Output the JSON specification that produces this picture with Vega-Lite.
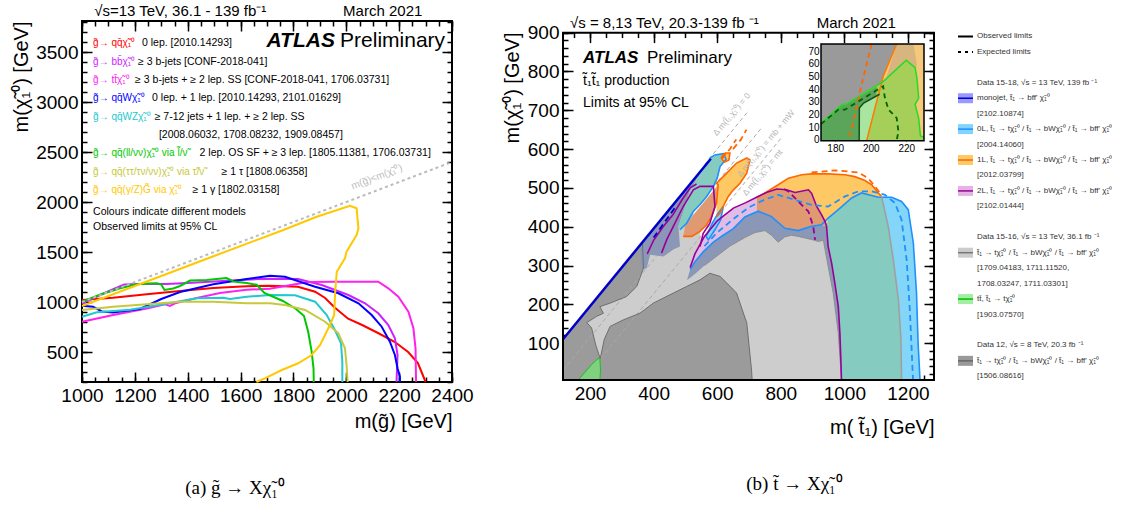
{
"$schema":"https://vega.github.io/schema/vega-lite/v6.json",
"padding":{"left":10,"top":3,"right":0,"bottom":0},
"background":"white",
"config":{"font":"Liberation Sans","view":{"stroke":null},
"axis":{"grid":false,"domain":false,"format":"d","labelFont":"Liberation Sans","titleFont":"Liberation Sans","labelColor":"#000","titleColor":"#000","tickColor":"#000","tickWidth":1.5,"labelFontSize":19,"titleFontSize":20,"titleFontWeight":"normal","labelFlush":false,"labelOverlap":false,"tickSize":-10,"labelPadding":14},
"title":{"font":"Liberation Serif","fontSize":19,"fontWeight":"normal","color":"#000"},
"text":{"font":"Liberation Sans"}},
"datasets":{
"gl":[
{"s":"qq","x":1000,"y":1020},{"s":"qq","x":1117,"y":1043},{"s":"qq","x":1245,"y":1077},{"s":"qq","x":1371,"y":1110},{"s":"qq","x":1497,"y":1140},{"s":"qq","x":1623,"y":1157},{"s":"qq","x":1711,"y":1163},{"s":"qq","x":1817,"y":1153},{"s":"qq","x":1882,"y":1103},{"s":"qq","x":1920,"y":1040},{"s":"qq","x":1957,"y":943},{"s":"qq","x":2007,"y":833},{"s":"qq","x":2060,"y":770},{"s":"qq","x":2120,"y":690},{"s":"qq","x":2184,"y":600},{"s":"qq","x":2234,"y":500},{"s":"qq","x":2271,"y":390},{"s":"qq","x":2294,"y":240},{"s":"qq","x":2300,"y":200},
{"s":"bb","x":1000,"y":985},{"s":"bb","x":1060,"y":1060},{"s":"bb","x":1120,"y":1130},{"s":"bb","x":1160,"y":1175},{"s":"bb","x":1250,"y":1183},{"s":"bb","x":1320,"y":1180},{"s":"bb","x":1400,"y":1190},{"s":"bb","x":1500,"y":1205},{"s":"bb","x":1600,"y":1220},{"s":"bb","x":1692,"y":1233},{"s":"bb","x":1818,"y":1230},{"s":"bb","x":1907,"y":1170},{"s":"bb","x":2008,"y":1070},{"s":"bb","x":2071,"y":987},{"s":"bb","x":2121,"y":887},{"s":"bb","x":2159,"y":770},{"s":"bb","x":2184,"y":637},{"s":"bb","x":2194,"y":470},{"s":"bb","x":2190,"y":203},
{"s":"tt","x":1000,"y":803},{"s":"tt","x":1118,"y":870},{"s":"tt","x":1245,"y":935},{"s":"tt","x":1314,"y":977},{"s":"tt","x":1333,"y":960},{"s":"tt","x":1352,"y":987},{"s":"tt","x":1434,"y":1040},{"s":"tt","x":1522,"y":1090},{"s":"tt","x":1623,"y":1123},{"s":"tt","x":1711,"y":1133},{"s":"tt","x":1790,"y":1170},{"s":"tt","x":1856,"y":1200},{"s":"tt","x":1950,"y":1203},{"s":"tt","x":2050,"y":1203},{"s":"tt","x":2121,"y":1203},{"s":"tt","x":2159,"y":1137},{"s":"tt","x":2197,"y":1053},{"s":"tt","x":2235,"y":903},{"s":"tt","x":2254,"y":737},{"s":"tt","x":2262,"y":537},{"s":"tt","x":2264,"y":203},
{"s":"qqW","x":1000,"y":963},{"s":"qqW","x":1042,"y":953},{"s":"qqW","x":1075,"y":905},{"s":"qqW","x":1117,"y":895},{"s":"qqW","x":1219,"y":930},{"s":"qqW","x":1300,"y":1030},{"s":"qqW","x":1371,"y":1100},{"s":"qqW","x":1497,"y":1177},{"s":"qqW","x":1623,"y":1230},{"s":"qqW","x":1711,"y":1263},{"s":"qqW","x":1768,"y":1253},{"s":"qqW","x":1882,"y":1153},{"s":"qqW","x":1970,"y":1087},{"s":"qqW","x":2046,"y":987},{"s":"qqW","x":2096,"y":870},{"s":"qqW","x":2134,"y":753},{"s":"qqW","x":2165,"y":603},{"s":"qqW","x":2184,"y":470},{"s":"qqW","x":2194,"y":337},{"s":"qqW","x":2203,"y":253},{"s":"qqW","x":2203,"y":200},
{"s":"qqWZ","x":1000,"y":853},{"s":"qqWZ","x":1056,"y":897},{"s":"qqWZ","x":1182,"y":923},{"s":"qqWZ","x":1308,"y":977},{"s":"qqWZ","x":1434,"y":1037},{"s":"qqWZ","x":1535,"y":1043},{"s":"qqWZ","x":1560,"y":1030},{"s":"qqWZ","x":1623,"y":1053},{"s":"qqWZ","x":1711,"y":1070},{"s":"qqWZ","x":1806,"y":1067},{"s":"qqWZ","x":1882,"y":1003},{"s":"qqWZ","x":1926,"y":870},{"s":"qqWZ","x":1957,"y":720},{"s":"qqWZ","x":1980,"y":587},{"s":"qqWZ","x":1985,"y":403},{"s":"qqWZ","x":1985,"y":200},
{"s":"sl","x":1000,"y":1003},{"s":"sl","x":1068,"y":1072},{"s":"sl","x":1144,"y":1137},{"s":"sl","x":1207,"y":1177},{"s":"sl","x":1283,"y":1187},{"s":"sl","x":1300,"y":1175},{"s":"sl","x":1312,"y":1120},{"s":"sl","x":1345,"y":1135},{"s":"sl","x":1371,"y":1160},{"s":"sl","x":1409,"y":1215},{"s":"sl","x":1472,"y":1220},{"s":"sl","x":1547,"y":1240},{"s":"sl","x":1573,"y":1205},{"s":"sl","x":1623,"y":1190},{"s":"sl","x":1661,"y":1172},{"s":"sl","x":1690,"y":1090},{"s":"sl","x":1760,"y":1010},{"s":"sl","x":1810,"y":930},{"s":"sl","x":1840,"y":860},{"s":"sl","x":1856,"y":700},{"s":"sl","x":1869,"y":503},{"s":"sl","x":1876,"y":337},{"s":"sl","x":1877,"y":200},
{"s":"stau","x":1000,"y":920},{"s":"stau","x":1118,"y":953},{"s":"stau","x":1245,"y":977},{"s":"stau","x":1371,"y":1003},{"s":"stau","x":1497,"y":1003},{"s":"stau","x":1623,"y":987},{"s":"stau","x":1711,"y":987},{"s":"stau","x":1768,"y":970},{"s":"stau","x":1844,"y":920},{"s":"stau","x":1920,"y":803},{"s":"stau","x":1970,"y":687},{"s":"stau","x":1995,"y":537},{"s":"stau","x":2001,"y":370},{"s":"stau","x":2005,"y":200},
{"s":"gam","x":1000,"y":960},{"s":"gam","x":1500,"y":1460},{"s":"gam","x":1762,"y":1720},{"s":"gam","x":1888,"y":1853},{"s":"gam","x":2014,"y":1963},{"s":"gam","x":2039,"y":1937},{"s":"gam","x":2046,"y":1737},{"s":"gam","x":2039,"y":1670},{"s":"gam","x":2001,"y":1503},{"s":"gam","x":1995,"y":1437},{"s":"gam","x":1964,"y":1303},{"s":"gam","x":1958,"y":1100},{"s":"gam","x":1954,"y":870},{"s":"gam","x":1938,"y":770},{"s":"gam","x":1901,"y":570},{"s":"gam","x":1869,"y":470},{"s":"gam","x":1818,"y":387},{"s":"gam","x":1756,"y":320},{"s":"gam","x":1692,"y":237},{"s":"gam","x":1660,"y":200},
{"s":"diag","x":1000,"y":1000},{"s":"diag","x":2400,"y":2400}
],
"gtx":[
{"s":"qq","x":1042,"y":3587,"t":"g̃→ qq̄χ̃₁⁰"},
{"s":"bb","x":1042,"y":3403,"t":"g̃→ bb̄χ̃₁⁰"},
{"s":"tt","x":1042,"y":3220,"t":"g̃→ tt̄χ̃₁⁰"},
{"s":"qqW","x":1042,"y":3037,"t":"g̃→ qq̄Wχ̃₁⁰"},
{"s":"qqWZ","x":1042,"y":2853,"t":"g̃→ qq̄WZχ̃₁⁰"},
{"s":"sl","x":1042,"y":2487,"t":"g̃→ qq̄(ll/νν)χ̃₁⁰ via l̃/ν̃"},
{"s":"stau","x":1042,"y":2303,"t":"g̃→ qq̄(ττ/τν/νν)χ̃₁⁰ via τ̃/ν̃"},
{"s":"gam","x":1042,"y":2120,"t":"g̃→ qq̄(γ/Z)G̃ via χ̃₁⁰"}
],
"st":[
{"p":"lg","x":115,"y":5},{"p":"lg","x":115,"y":110},{"p":"lg","x":470,"y":465},{"p":"lg","x":485,"y":470},{"p":"lg","x":520,"y":440},{"p":"lg","x":545,"y":400},{"p":"lg","x":552,"y":330},{"p":"lg","x":560,"y":300},{"p":"lg","x":600,"y":325},{"p":"lg","x":640,"y":350},{"p":"lg","x":687,"y":372},{"p":"lg","x":719,"y":385},{"p":"lg","x":750,"y":390},{"p":"lg","x":771,"y":378},{"p":"lg","x":792,"y":360},{"p":"lg","x":813,"y":374},{"p":"lg","x":834,"y":378},{"p":"lg","x":855,"y":375},{"p":"lg","x":876,"y":371},{"p":"lg","x":897,"y":367},{"p":"lg","x":918,"y":362},{"p":"lg","x":934,"y":365},{"p":"lg","x":949,"y":298},{"p":"lg","x":965,"y":229},{"p":"lg","x":981,"y":126},{"p":"lg","x":991,"y":5},
{"p":"dg","x":115,"y":5},{"p":"dg","x":115,"y":110},{"p":"dg","x":365,"y":360},{"p":"dg","x":368,"y":293},{"p":"dg","x":347,"y":246},{"p":"dg","x":315,"y":220},{"p":"dg","x":263,"y":203},{"p":"dg","x":231,"y":194},{"p":"dg","x":242,"y":177},{"p":"dg","x":221,"y":169},{"p":"dg","x":190,"y":153},{"p":"dg","x":205,"y":139},{"p":"dg","x":218,"y":95},{"p":"dg","x":232,"y":60},{"p":"dg","x":245,"y":110},{"p":"dg","x":263,"y":143},{"p":"dg","x":305,"y":160},{"p":"dg","x":357,"y":177},{"p":"dg","x":399,"y":203},{"p":"dg","x":462,"y":229},{"p":"dg","x":504,"y":246},{"p":"dg","x":546,"y":263},{"p":"dg","x":577,"y":280},{"p":"dg","x":609,"y":272},{"p":"dg","x":630,"y":255},{"p":"dg","x":661,"y":229},{"p":"dg","x":693,"y":152},{"p":"dg","x":708,"y":31},{"p":"dg","x":710,"y":5},
{"p":"s1","x":357,"y":352},{"p":"s1","x":580,"y":575},{"p":"s1","x":556,"y":547},{"p":"s1","x":535,"y":521},{"p":"s1","x":514,"y":491},{"p":"s1","x":499,"y":452},{"p":"s1","x":478,"y":401},{"p":"s1","x":483,"y":349},{"p":"s1","x":462,"y":341},{"p":"s1","x":431,"y":323},{"p":"s1","x":389,"y":328},{"p":"s1","x":378,"y":293},{"p":"s1","x":362,"y":289},
{"p":"s2","x":505,"y":262},{"p":"s2","x":515,"y":290},{"p":"s2","x":530,"y":310},{"p":"s2","x":556,"y":335},{"p":"s2","x":588,"y":360},{"p":"s2","x":619,"y":378},{"p":"s2","x":651,"y":395},{"p":"s2","x":687,"y":425},{"p":"s2","x":729,"y":440},{"p":"s2","x":771,"y":426},{"p":"s2","x":813,"y":396},{"p":"s2","x":855,"y":390},{"p":"s2","x":897,"y":401},{"p":"s2","x":928,"y":405},{"p":"s2","x":944,"y":401},{"p":"s2","x":949,"y":349},{"p":"s2","x":960,"y":306},{"p":"s2","x":970,"y":255},{"p":"s2","x":981,"y":194},{"p":"s2","x":986,"y":126},{"p":"s2","x":989,"y":57},{"p":"s2","x":991,"y":5},{"p":"s2","x":981,"y":126},{"p":"s2","x":965,"y":229},{"p":"s2","x":949,"y":298},{"p":"s2","x":934,"y":365},{"p":"s2","x":918,"y":362},{"p":"s2","x":897,"y":367},{"p":"s2","x":876,"y":371},{"p":"s2","x":855,"y":375},{"p":"s2","x":834,"y":378},{"p":"s2","x":813,"y":374},{"p":"s2","x":792,"y":360},{"p":"s2","x":771,"y":378},{"p":"s2","x":750,"y":390},{"p":"s2","x":719,"y":385},{"p":"s2","x":687,"y":372},{"p":"s2","x":640,"y":350},{"p":"s2","x":600,"y":325},{"p":"s2","x":560,"y":300},{"p":"s2","x":530,"y":278},
{"p":"pink","x":515,"y":295},{"p":"pink","x":530,"y":330},{"p":"pink","x":560,"y":375},{"p":"pink","x":600,"y":415},{"p":"pink","x":651,"y":448},{"p":"pink","x":690,"y":462},{"p":"pink","x":724,"y":476},{"p":"pink","x":724,"y":438},{"p":"pink","x":687,"y":425},{"p":"pink","x":651,"y":395},{"p":"pink","x":619,"y":378},{"p":"pink","x":588,"y":360},{"p":"pink","x":556,"y":335},{"p":"pink","x":530,"y":310},{"p":"pink","x":515,"y":290},
{"p":"brown","x":724,"y":476},{"p":"brown","x":755,"y":488},{"p":"brown","x":787,"y":497},{"p":"brown","x":818,"y":495},{"p":"brown","x":845,"y":488},{"p":"brown","x":887,"y":495},{"p":"brown","x":897,"y":486},{"p":"brown","x":913,"y":452},{"p":"brown","x":928,"y":431},{"p":"brown","x":939,"y":414},{"p":"brown","x":944,"y":401},{"p":"brown","x":928,"y":405},{"p":"brown","x":897,"y":401},{"p":"brown","x":855,"y":390},{"p":"brown","x":813,"y":396},{"p":"brown","x":771,"y":426},{"p":"brown","x":729,"y":440},{"p":"brown","x":724,"y":438},
{"p":"orange","x":724,"y":476},{"p":"orange","x":740,"y":482},{"p":"orange","x":792,"y":508},{"p":"orange","x":824,"y":525},{"p":"orange","x":866,"y":534},{"p":"orange","x":897,"y":536},{"p":"orange","x":949,"y":536},{"p":"orange","x":1002,"y":534},{"p":"orange","x":1033,"y":529},{"p":"orange","x":1065,"y":519},{"p":"orange","x":1086,"y":508},{"p":"orange","x":1107,"y":487},{"p":"orange","x":1117,"y":478},{"p":"orange","x":1107,"y":476},{"p":"orange","x":1054,"y":487},{"p":"orange","x":1023,"y":474},{"p":"orange","x":981,"y":444},{"p":"orange","x":949,"y":422},{"p":"orange","x":944,"y":401},{"p":"orange","x":939,"y":414},{"p":"orange","x":928,"y":431},{"p":"orange","x":913,"y":452},{"p":"orange","x":897,"y":486},{"p":"orange","x":887,"y":495},{"p":"orange","x":845,"y":488},{"p":"orange","x":818,"y":495},{"p":"orange","x":787,"y":497},{"p":"orange","x":755,"y":488},
{"p":"teal","x":944,"y":401},{"p":"teal","x":949,"y":422},{"p":"teal","x":981,"y":444},{"p":"teal","x":1023,"y":474},{"p":"teal","x":1054,"y":487},{"p":"teal","x":1107,"y":476},{"p":"teal","x":1117,"y":478},{"p":"teal","x":1138,"y":401},{"p":"teal","x":1154,"y":315},{"p":"teal","x":1170,"y":212},{"p":"teal","x":1178,"y":109},{"p":"teal","x":1180,"y":5},{"p":"teal","x":991,"y":5},{"p":"teal","x":989,"y":57},{"p":"teal","x":986,"y":126},{"p":"teal","x":981,"y":194},{"p":"teal","x":970,"y":255},{"p":"teal","x":960,"y":306},{"p":"teal","x":949,"y":349},
{"p":"lblue","x":1117,"y":478},{"p":"lblue","x":1149,"y":476},{"p":"lblue","x":1180,"y":465},{"p":"lblue","x":1201,"y":444},{"p":"lblue","x":1217,"y":358},{"p":"lblue","x":1227,"y":229},{"p":"lblue","x":1232,"y":100},{"p":"lblue","x":1238,"y":5},{"p":"lblue","x":1180,"y":5},{"p":"lblue","x":1178,"y":109},{"p":"lblue","x":1170,"y":212},{"p":"lblue","x":1154,"y":315},{"p":"lblue","x":1138,"y":401},
{"p":"grn","x":163,"y":5},{"p":"grn","x":205,"y":45},{"p":"grn","x":222,"y":58},{"p":"grn","x":231,"y":62},{"p":"grn","x":233,"y":30},{"p":"grn","x":231,"y":5},
{"p":"tealF","x":577,"y":577},{"p":"tealF","x":593,"y":585},{"p":"tealF","x":619,"y":588},{"p":"tealF","x":628,"y":574},{"p":"tealF","x":609,"y":555},{"p":"tealF","x":600,"y":525},{"p":"tealF","x":588,"y":504},{"p":"tealF","x":567,"y":478},{"p":"tealF","x":546,"y":457},{"p":"tealF","x":525,"y":439},{"p":"tealF","x":504,"y":409},{"p":"tealF","x":483,"y":392},{"p":"tealF","x":478,"y":401},{"p":"tealF","x":499,"y":452},{"p":"tealF","x":514,"y":491},{"p":"tealF","x":535,"y":521},{"p":"tealF","x":556,"y":547},
{"p":"brownF","x":603,"y":508},{"p":"brownF","x":598,"y":461},{"p":"brownF","x":582,"y":426},{"p":"brownF","x":567,"y":405},{"p":"brownF","x":546,"y":388},{"p":"brownF","x":520,"y":375},{"p":"brownF","x":493,"y":375},{"p":"brownF","x":499,"y":401},{"p":"brownF","x":525,"y":431},{"p":"brownF","x":556,"y":461},{"p":"brownF","x":582,"y":487},
{"p":"lbF","x":600,"y":431},{"p":"lbF","x":619,"y":452},{"p":"lbF","x":611,"y":418},{"p":"lbF","x":593,"y":392},{"p":"lbF","x":572,"y":366},{"p":"lbF","x":565,"y":375},{"p":"lbF","x":582,"y":405},
{"p":"orangeF","x":598,"y":512},{"p":"orangeF","x":630,"y":538},{"p":"orangeF","x":661,"y":564},{"p":"orangeF","x":693,"y":577},{"p":"orangeF","x":703,"y":572},{"p":"orangeF","x":693,"y":538},{"p":"orangeF","x":672,"y":512},{"p":"orangeF","x":651,"y":495},{"p":"orangeF","x":635,"y":478},{"p":"orangeF","x":624,"y":461},{"p":"orangeF","x":609,"y":435},{"p":"orangeF","x":598,"y":426},
{"p":"orangeF2","x":612,"y":578},{"p":"orangeF2","x":625,"y":590},{"p":"orangeF2","x":640,"y":590},{"p":"orangeF2","x":637,"y":572},{"p":"orangeF2","x":622,"y":566}
],
"sl":[
{"p":"mono","x":115,"y":110},{"p":"mono","x":580,"y":575},
{"p":"zeroL","x":515,"y":290},{"p":"zeroL","x":530,"y":310},{"p":"zeroL","x":556,"y":335},{"p":"zeroL","x":588,"y":360},{"p":"zeroL","x":619,"y":378},{"p":"zeroL","x":651,"y":395},{"p":"zeroL","x":687,"y":425},{"p":"zeroL","x":729,"y":440},{"p":"zeroL","x":771,"y":426},{"p":"zeroL","x":813,"y":396},{"p":"zeroL","x":855,"y":390},{"p":"zeroL","x":897,"y":401},{"p":"zeroL","x":928,"y":405},{"p":"zeroL","x":949,"y":422},{"p":"zeroL","x":981,"y":444},{"p":"zeroL","x":1023,"y":474},{"p":"zeroL","x":1054,"y":487},{"p":"zeroL","x":1107,"y":476},{"p":"zeroL","x":1149,"y":476},{"p":"zeroL","x":1180,"y":465},{"p":"zeroL","x":1201,"y":444},{"p":"zeroL","x":1217,"y":358},{"p":"zeroL","x":1227,"y":229},{"p":"zeroL","x":1232,"y":100},{"p":"zeroL","x":1238,"y":5},
{"p":"zeroLF","x":483,"y":392},{"p":"zeroLF","x":504,"y":409},{"p":"zeroLF","x":525,"y":439},{"p":"zeroLF","x":546,"y":457},{"p":"zeroLF","x":567,"y":478},{"p":"zeroLF","x":588,"y":504},{"p":"zeroLF","x":600,"y":525},{"p":"zeroLF","x":609,"y":555},{"p":"zeroLF","x":628,"y":574},{"p":"zeroLF","x":619,"y":588},{"p":"zeroLF","x":593,"y":585},{"p":"zeroLF","x":577,"y":577},
{"p":"zeroLlb","x":565,"y":375},{"p":"zeroLlb","x":582,"y":405},{"p":"zeroLlb","x":600,"y":431},{"p":"zeroLlb","x":619,"y":452},{"p":"zeroLlb","x":611,"y":418},{"p":"zeroLlb","x":593,"y":392},{"p":"zeroLlb","x":572,"y":366},{"p":"zeroLlb","x":565,"y":375},
{"p":"oneL","x":724,"y":476},{"p":"oneL","x":740,"y":482},{"p":"oneL","x":792,"y":508},{"p":"oneL","x":824,"y":525},{"p":"oneL","x":866,"y":534},{"p":"oneL","x":897,"y":536},{"p":"oneL","x":949,"y":536},{"p":"oneL","x":1002,"y":534},{"p":"oneL","x":1033,"y":529},{"p":"oneL","x":1065,"y":519},{"p":"oneL","x":1086,"y":508},{"p":"oneL","x":1107,"y":487},{"p":"oneL","x":1117,"y":478},
{"p":"oneLdesc","x":1117,"y":478},{"p":"oneLdesc","x":1138,"y":401},{"p":"oneLdesc","x":1154,"y":315},{"p":"oneLdesc","x":1170,"y":212},{"p":"oneLdesc","x":1178,"y":109},{"p":"oneLdesc","x":1180,"y":5},
{"p":"oF1","x":598,"y":426},{"p":"oF1","x":609,"y":435},{"p":"oF1","x":624,"y":461},{"p":"oF1","x":635,"y":478},{"p":"oF1","x":651,"y":495},{"p":"oF1","x":672,"y":512},{"p":"oF1","x":693,"y":538},{"p":"oF1","x":703,"y":572},{"p":"oF1","x":693,"y":577},{"p":"oF1","x":661,"y":564},{"p":"oF1","x":630,"y":538},{"p":"oF1","x":598,"y":512},{"p":"oF1","x":603,"y":508},{"p":"oF1","x":598,"y":461},{"p":"oF1","x":582,"y":426},{"p":"oF1","x":567,"y":405},{"p":"oF1","x":546,"y":388},{"p":"oF1","x":520,"y":375},{"p":"oF1","x":493,"y":375},
{"p":"oF2","x":612,"y":578},{"p":"oF2","x":625,"y":590},{"p":"oF2","x":640,"y":590},{"p":"oF2","x":637,"y":572},{"p":"oF2","x":622,"y":566},{"p":"oF2","x":612,"y":578},
{"p":"twoL","x":515,"y":295},{"p":"twoL","x":530,"y":330},{"p":"twoL","x":560,"y":375},{"p":"twoL","x":600,"y":415},{"p":"twoL","x":651,"y":448},{"p":"twoL","x":690,"y":462},{"p":"twoL","x":724,"y":476},{"p":"twoL","x":755,"y":488},{"p":"twoL","x":787,"y":497},{"p":"twoL","x":818,"y":495},{"p":"twoL","x":845,"y":488},{"p":"twoL","x":887,"y":495},{"p":"twoL","x":897,"y":486},{"p":"twoL","x":913,"y":452},{"p":"twoL","x":928,"y":431},{"p":"twoL","x":939,"y":414},{"p":"twoL","x":944,"y":401},{"p":"twoL","x":949,"y":349},{"p":"twoL","x":960,"y":306},{"p":"twoL","x":970,"y":255},{"p":"twoL","x":981,"y":194},{"p":"twoL","x":986,"y":126},{"p":"twoL","x":989,"y":57},{"p":"twoL","x":991,"y":5},
{"p":"twoLF","x":425,"y":332},{"p":"twoLF","x":441,"y":366},{"p":"twoLF","x":462,"y":401},{"p":"twoLF","x":493,"y":452},{"p":"twoLF","x":525,"y":495},{"p":"twoLF","x":546,"y":504},{"p":"twoLF","x":588,"y":504},{"p":"twoLF","x":593,"y":452},{"p":"twoLF","x":577,"y":409},{"p":"twoLF","x":556,"y":383},{"p":"twoLF","x":546,"y":349},
{"p":"twoLF2","x":380,"y":330},{"p":"twoLF2","x":400,"y":365},{"p":"twoLF2","x":430,"y":400},{"p":"twoLF2","x":460,"y":430},{"p":"twoLF2","x":490,"y":470},{"p":"twoLF2","x":515,"y":500},{"p":"twoLF2","x":535,"y":510},
{"p":"lgL","x":560,"y":300},{"p":"lgL","x":600,"y":325},{"p":"lgL","x":640,"y":350},{"p":"lgL","x":687,"y":372},{"p":"lgL","x":719,"y":385},{"p":"lgL","x":750,"y":390},{"p":"lgL","x":771,"y":378},{"p":"lgL","x":792,"y":360},{"p":"lgL","x":813,"y":374},{"p":"lgL","x":834,"y":378},{"p":"lgL","x":855,"y":375},{"p":"lgL","x":876,"y":371},{"p":"lgL","x":897,"y":367},{"p":"lgL","x":918,"y":362},{"p":"lgL","x":934,"y":365},{"p":"lgL","x":949,"y":298},{"p":"lgL","x":965,"y":229},{"p":"lgL","x":981,"y":126},{"p":"lgL","x":991,"y":5},
{"p":"dgL","x":365,"y":360},{"p":"dgL","x":368,"y":293},{"p":"dgL","x":347,"y":246},{"p":"dgL","x":315,"y":220},{"p":"dgL","x":263,"y":203},{"p":"dgL","x":231,"y":194},{"p":"dgL","x":242,"y":177},{"p":"dgL","x":221,"y":169},{"p":"dgL","x":190,"y":153},{"p":"dgL","x":205,"y":139},{"p":"dgL","x":218,"y":95},{"p":"dgL","x":232,"y":60},{"p":"dgL","x":245,"y":110},{"p":"dgL","x":263,"y":143},{"p":"dgL","x":305,"y":160},{"p":"dgL","x":357,"y":177},{"p":"dgL","x":399,"y":203},{"p":"dgL","x":462,"y":229},{"p":"dgL","x":504,"y":246},{"p":"dgL","x":546,"y":263},{"p":"dgL","x":577,"y":280},{"p":"dgL","x":609,"y":272},{"p":"dgL","x":630,"y":255},{"p":"dgL","x":661,"y":229},{"p":"dgL","x":693,"y":152},{"p":"dgL","x":708,"y":31},{"p":"dgL","x":710,"y":5},
{"p":"grnL","x":163,"y":5},{"p":"grnL","x":205,"y":45},{"p":"grnL","x":222,"y":58},{"p":"grnL","x":231,"y":62},{"p":"grnL","x":233,"y":30},{"p":"grnL","x":231,"y":5},
{"p":"zeroLd","x":560,"y":350},{"p":"zeroLd","x":600,"y":385},{"p":"zeroLd","x":651,"y":420},{"p":"zeroLd","x":700,"y":450},{"p":"zeroLd","x":750,"y":470},{"p":"zeroLd","x":792,"y":482},{"p":"zeroLd","x":845,"y":469},{"p":"zeroLd","x":897,"y":456},{"p":"zeroLd","x":949,"y":452},{"p":"zeroLd","x":1002,"y":478},{"p":"zeroLd","x":1044,"y":491},{"p":"zeroLd","x":1086,"y":491},{"p":"zeroLd","x":1128,"y":482},{"p":"zeroLd","x":1159,"y":461},{"p":"zeroLd","x":1180,"y":418},{"p":"zeroLd","x":1196,"y":314},{"p":"zeroLd","x":1206,"y":186},{"p":"zeroLd","x":1216,"y":5},
{"p":"oneLd","x":897,"y":540},{"p":"oneLd","x":970,"y":545},{"p":"oneLd","x":1044,"y":540},{"p":"oneLd","x":1075,"y":525},{"p":"oneLd","x":1101,"y":499},{"p":"oneLd","x":1117,"y":482},
{"p":"oneLd2","x":615,"y":575},{"p":"oneLd2","x":640,"y":600},{"p":"oneLd2","x":660,"y":625},
{"p":"oneLd3","x":650,"y":600},{"p":"oneLd3","x":675,"y":625},{"p":"oneLd3","x":692,"y":650},
{"p":"twoLd","x":810,"y":497},{"p":"twoLd","x":824,"y":491},{"p":"twoLd","x":855,"y":465},{"p":"twoLd","x":887,"y":439},{"p":"twoLd","x":902,"y":401},{"p":"twoLd","x":908,"y":366},
{"p":"monod","x":400,"y":372},{"p":"monod","x":440,"y":418},{"p":"monod","x":470,"y":452},
{"p":"k0","x":560,"y":560},{"p":"k0","x":700,"y":700},
{"p":"k1","x":115,"y":30},{"p":"k1","x":740,"y":655},
{"p":"k2","x":178,"y":5},{"p":"k2","x":800,"y":627}
],
"ip":[
{"p":"bgO","x":172,"y":-0.8},{"p":"bgO","x":230,"y":-0.8},{"p":"bgO","x":230,"y":75.8},{"p":"bgO","x":172,"y":75.8},
{"p":"tan","x":214.6,"y":75.8},{"p":"tan","x":224,"y":75.8},{"p":"tan","x":226,"y":60},{"p":"tan","x":224,"y":45},{"p":"tan","x":226,"y":30},{"p":"tan","x":224,"y":15},{"p":"tan","x":225,"y":-0.8},{"p":"tan","x":197.7,"y":-0.8},
{"p":"dgI","x":172,"y":-0.8},{"p":"dgI","x":172,"y":75.8},{"p":"dgI","x":214.6,"y":75.8},{"p":"dgI","x":207.1,"y":50.3},{"p":"dgI","x":202.4,"y":25.1},{"p":"dgI","x":197.7,"y":-0.8},
{"p":"gr","x":172,"y":13},{"p":"gr","x":184,"y":28},{"p":"gr","x":186,"y":28},{"p":"gr","x":207,"y":46},{"p":"gr","x":220,"y":63},{"p":"gr","x":225,"y":57},{"p":"gr","x":226,"y":49},{"p":"gr","x":227,"y":33},{"p":"gr","x":225,"y":28},{"p":"gr","x":227,"y":17},{"p":"gr","x":228,"y":3},{"p":"gr","x":230,"y":2},{"p":"gr","x":230,"y":-0.8},{"p":"gr","x":172,"y":-0.8},
{"p":"grd","x":172,"y":-0.8},{"p":"grd","x":172,"y":13},{"p":"grd","x":184,"y":28},{"p":"grd","x":186,"y":28},{"p":"grd","x":203.5,"y":42},{"p":"grd","x":202.4,"y":25.1},{"p":"grd","x":197.7,"y":-0.8},
{"p":"grL","x":193.5,"y":-0.8},{"p":"grL","x":193.6,"y":25},{"p":"grL","x":196,"y":29},{"p":"grL","x":205,"y":36},{"p":"grL","x":202.4,"y":25.1},{"p":"grL","x":197.7,"y":-0.8}
],
"il":[
{"p":"oS","x":214.6,"y":75.8},{"p":"oS","x":207.1,"y":50.3},{"p":"oS","x":202.4,"y":25.1},{"p":"oS","x":197.7,"y":-0.8},
{"p":"gS","x":172,"y":13},{"p":"gS","x":184,"y":28},{"p":"gS","x":186,"y":28},{"p":"gS","x":207,"y":46},{"p":"gS","x":220,"y":63},{"p":"gS","x":225,"y":57},{"p":"gS","x":226,"y":49},{"p":"gS","x":227,"y":33},{"p":"gS","x":225,"y":28},{"p":"gS","x":227,"y":17},{"p":"gS","x":228,"y":3},{"p":"gS","x":230,"y":2},
{"p":"dgS","x":193.5,"y":-0.8},{"p":"dgS","x":193.6,"y":25},{"p":"dgS","x":196,"y":29},{"p":"dgS","x":205,"y":36},
{"p":"oD","x":200.5,"y":75.8},{"p":"oD","x":194.9,"y":43.7},{"p":"oD","x":190.2,"y":14.6},{"p":"oD","x":187.4,"y":-0.8},
{"p":"gD","x":172,"y":12.4},{"p":"gD","x":181.8,"y":23.8},{"p":"gD","x":185.5,"y":23.8},{"p":"gD","x":207,"y":42.3},{"p":"gD","x":208,"y":33},{"p":"gD","x":210,"y":23.8},{"p":"gD","x":214.6,"y":17.2},{"p":"gD","x":215.6,"y":6.6},{"p":"gD","x":214.6,"y":-0.8}
],
"leg":[
{"s":1,"t":"Observed limits"},{"s":2,"t":"Expected limits"},
{"s":4,"t":"Data 15-18, √s = 13 TeV, 139 fb ⁻¹"},
{"s":5,"t":"monojet, t̃₁ → bff' χ̃₁⁰"},{"s":6,"t":"[2102.10874]"},
{"s":7,"t":"0L, t̃₁ → tχ̃₁⁰ / t̃₁ → bWχ̃₁⁰ / t̃₁ → bff' χ̃₁⁰"},{"s":8,"t":"[2004.14060]"},
{"s":9,"t":"1L,  t̃₁ → tχ̃₁⁰ /  t̃₁ → bWχ̃₁⁰ / t̃₁ → bff' χ̃₁⁰"},{"s":10,"t":"[2012.03799]"},
{"s":11,"t":"2L,  t̃₁ → tχ̃₁⁰ /  t̃₁ → bWχ̃₁⁰ / t̃₁ → bff' χ̃₁⁰"},{"s":12,"t":"[2102.01444]"},
{"s":14,"t":"Data 15-16, √s = 13 TeV, 36.1 fb ⁻¹"},
{"s":15,"t":"t̃₁ → tχ̃₁⁰ / t̃₁ → bWχ̃₁⁰ / t̃₁ → bff' χ̃₁⁰"},{"s":16,"t":"[1709.04183, 1711.11520,"},{"s":17,"t":" 1708.03247, 1711.03301]"},
{"s":18,"t":"tt̄, t̃₁ → tχ̃₁⁰"},{"s":19,"t":"[1903.07570]"},
{"s":21,"t":"Data 12, √s = 8 TeV, 20.3 fb ⁻¹"},
{"s":22,"t":"t̃₁ → tχ̃₁⁰ / t̃₁ → bWχ̃₁⁰ / t̃₁ → bff' χ̃₁⁰"},{"s":23,"t":"[1506.08616]"}
],
"legsw":[{"s":5,"k":"mono"},{"s":7,"k":"zeroL"},{"s":9,"k":"oneL"},{"s":11,"k":"twoL"},{"s":15,"k":"lg"},{"s":18,"k":"tt"},{"s":22,"k":"dg"}],
"legoe":[{"s":1,"k":"obs"},{"s":2,"k":"exp"}]
},
"hconcat":[
{
"width":370,"height":361,
"view":{"stroke":"#000","strokeWidth":2},
"title":{"text":"(a)  g̃ → Xχ̃₁⁰","orient":"bottom","anchor":"middle","dx":-32,"offset":48},
"layer":[
{"layer":[
{"data":{"name":"gl"},"transform":[{"filter":"datum.s != 'diag'"}],"mark":{"type":"line","strokeWidth":2},
"encoding":{
"x":{"field":"x","type":"quantitative","scale":{"domain":[1000,2400],"nice":false,"zero":false},"axis":{"values":[1000,1200,1400,1600,1800,2000,2200,2400],"title":"m(g̃) [GeV]","titleAnchor":"end","titlePadding":6}},
"y":{"field":"y","type":"quantitative","scale":{"domain":[200,3810],"nice":false,"zero":false},"axis":{"values":[500,1000,1500,2000,2500,3000,3500],"title":"m(χ̃₁⁰) [GeV]","titleAnchor":"end","titlePadding":4}},
"color":{"field":"s","type":"nominal","scale":{"domain":["qq","bb","tt","qqW","qqWZ","sl","stau","gam"],"range":["#ff0000","#cc22ff","#ff22ee","#0000ff","#22c8d0","#00c800","#c8c83c","#ffc800"]},"legend":null},
"order":{"value":null}}},
{"data":{"name":"gl"},"transform":[{"filter":"datum.s == 'diag'"}],"mark":{"type":"line","strokeWidth":2,"strokeDash":[3,3],"color":"#bbbbbb"},
"encoding":{"x":{"field":"x","type":"quantitative"},"y":{"field":"y","type":"quantitative"},"order":{"value":null}}},
{"data":{"name":"gtx"},"mark":{"type":"text","align":"left","baseline":"middle","fontSize":10},
"encoding":{"x":{"field":"x","type":"quantitative"},"y":{"field":"y","type":"quantitative"},"text":{"field":"t"},
"color":{"field":"s","type":"nominal","scale":{"domain":["qq","bb","tt","qqW","qqWZ","sl","stau","gam"],"range":["#ff0000","#cc22ff","#ff22ee","#0000ff","#22c8d0","#00c800","#c8c83c","#ffc800"]},"legend":null}}},
{"data":{"values":[
{"x":1227,"y":3587,"t":"0 lep. [2010.14293]"},
{"x":1212,"y":3403,"t":"≥ 3 b-jets [CONF-2018-041]"},
{"x":1201,"y":3220,"t":"≥ 3 b-jets +  ≥ 2 lep. SS [CONF-2018-041, 1706.03731]"},
{"x":1265,"y":3037,"t":"0 lep. + 1 lep. [2010.14293, 2101.01629]"},
{"x":1275,"y":2853,"t":"≥ 7-12 jets + 1 lep. +  ≥ 2 lep. SS"},
{"x":1291,"y":2670,"t":"[2008.06032, 1708.08232, 1909.08457]"},
{"x":1445,"y":2487,"t":"2 lep. OS SF +  ≥ 3 lep. [1805.11381, 1706.03731]"},
{"x":1528,"y":2303,"t":"≥ 1 τ [1808.06358]"},
{"x":1418,"y":2120,"t":"≥ 1 γ [1802.03158]"},
{"x":1042,"y":1903,"t":"Colours indicate different models"},
{"x":1042,"y":1747,"t":"Observed limits at 95% CL"}]},
"mark":{"type":"text","align":"left","baseline":"middle","fontSize":10.5,"color":"#000"},
"encoding":{"x":{"field":"x","type":"quantitative"},"y":{"field":"y","type":"quantitative"},"text":{"field":"t"}}},
{"data":{"values":[{"x":1957,"y":3610,"t":"ATLAS"}]},"mark":{"type":"text","align":"right","baseline":"middle","fontSize":21,"fontWeight":"bold","fontStyle":"italic","color":"#000"},
"encoding":{"x":{"field":"x","type":"quantitative"},"y":{"field":"y","type":"quantitative"},"text":{"field":"t"}}},
{"data":{"values":[{"x":2374,"y":3610,"t":"Preliminary"}]},"mark":{"type":"text","align":"right","baseline":"middle","fontSize":21,"color":"#000"},
"encoding":{"x":{"field":"x","type":"quantitative"},"y":{"field":"y","type":"quantitative"},"text":{"field":"t"}}},
{"data":{"values":[{"x":1046,"y":3910,"t":"√s=13 TeV, 36.1 - 139 fb⁻¹"},{"x":1988,"y":3910,"t":"March 2021"}]},"mark":{"type":"text","align":"left","baseline":"middle","fontSize":15,"color":"#000"},
"encoding":{"x":{"field":"x","type":"quantitative"},"y":{"field":"y","type":"quantitative"},"text":{"field":"t"}}},
{"data":{"values":[{"x":2116,"y":2250,"t":"m(g̃)<m(χ̃₁⁰)"}]},"mark":{"type":"text","align":"center","baseline":"middle","fontSize":10,"angle":339,"color":"#bbbbbb"},
"encoding":{"x":{"field":"x","type":"quantitative"},"y":{"field":"y","type":"quantitative"},"text":{"field":"t"}}}
]},
{"data":{"values":[]},"mark":"point","encoding":{
"x":{"field":"x","type":"quantitative","axis":{"orient":"bottom","values":[1000,1050,1100,1150,1200,1250,1300,1350,1400,1450,1500,1550,1600,1650,1700,1750,1800,1850,1900,1950,2000,2050,2100,2150,2200,2250,2300,2350,2400],"labels":false,"tickSize":-5,"title":null}},
"y":{"field":"y","type":"quantitative","axis":{"orient":"left","values":[200,300,400,500,600,700,800,900,1000,1100,1200,1300,1400,1500,1600,1700,1800,1900,2000,2100,2200,2300,2400,2500,2600,2700,2800,2900,3000,3100,3200,3300,3400,3500,3600,3700,3800],"labels":false,"tickSize":-5,"title":null}}}},
{"data":{"values":[]},"mark":"point","encoding":{
"x":{"field":"x","type":"quantitative","axis":{"orient":"top","values":[1000,1200,1400,1600,1800,2000,2200,2400],"labels":false,"tickSize":-10,"title":null}},
"y":{"field":"y","type":"quantitative","axis":{"orient":"right","values":[500,1000,1500,2000,2500,3000,3500],"labels":false,"tickSize":-10,"title":null}}}},
{"data":{"values":[]},"mark":"point","encoding":{
"x":{"field":"x","type":"quantitative","axis":{"orient":"top","values":[1000,1050,1100,1150,1200,1250,1300,1350,1400,1450,1500,1550,1600,1650,1700,1750,1800,1850,1900,1950,2000,2050,2100,2150,2200,2250,2300,2350,2400],"labels":false,"tickSize":-5,"title":null}},
"y":{"field":"y","type":"quantitative","axis":{"orient":"right","values":[200,300,400,500,600,700,800,900,1000,1100,1200,1300,1400,1500,1600,1700,1800,1900,2000,2100,2200,2300,2400,2500,2600,2700,2800,2900,3000,3100,3200,3300,3400,3500,3600,3700,3800],"labels":false,"tickSize":-5,"title":null}}}}
],
"resolve":{"axis":{"x":"independent","y":"independent"}}
},
{
"hconcat":[
{
"width":371,"height":359,
"title":{"text":"(b)  t̃ → Xχ̃₁⁰","orient":"bottom","anchor":"middle","dx":46,"offset":38},
"layer":[
{"layer":[
{"layer":[
{"data":{"name":"st"},"transform":[{"filter":{"field":"p","oneOf":["lg"]}}],"mark":{"type":"line","filled":true},
"encoding":{
"x":{"field":"x","type":"quantitative","scale":{"domain":[115,1282],"nice":false,"zero":false},"axis":{"values":[200,400,600,800,1000,1200],"title":"m( t̃₁) [GeV]","titleAnchor":"end","titlePadding":14}},
"y":{"field":"y","type":"quantitative","scale":{"domain":[5,930],"nice":false,"zero":false},"axis":{"values":[100,200,300,400,500,600,700,800,900],"title":"m(χ̃₁⁰) [GeV]","titleAnchor":"end","titlePadding":5,"titleY":11}},
"fill":{"field":"p","type":"nominal","scale":{"domain":["lg","dg","s1","s2","pink","brown","orange","teal","lblue","grn","tealF","brownF","lbF","orangeF","orangeF2"],"range":["#cdcdcd","#9b9b9b","#8a97b6","#8a97b6","#e3bce3","#df9a72","#fec865","#85cbbf","#83d6f8","#7fd07f","#85cbbf","#df9a72","#83d6f8","#fec865","#fec865"]},"legend":null},
"order":{"value":null}}},
{"data":{"name":"st"},"transform":[{"filter":{"field":"p","oneOf":["dg"]}}],"mark":{"type":"line","filled":true},
"encoding":{"x":{"field":"x","type":"quantitative"},"y":{"field":"y","type":"quantitative"},"fill":{"field":"p","type":"nominal","legend":null},"order":{"value":null}}},
{"data":{"name":"sl"},"transform":[{"filter":{"field":"p","oneOf":["k0","k1","k2"]}}],"mark":{"type":"line","strokeWidth":1,"strokeDash":[4,3],"color":"#aaaaaa"},
"encoding":{"x":{"field":"x","type":"quantitative"},"y":{"field":"y","type":"quantitative"},"detail":{"field":"p"},"order":{"value":null}}},
{"data":{"name":"st"},"transform":[{"filter":{"field":"p","oneOf":["s1","s2","pink","brown","orange","teal","lblue","grn"]}}],"mark":{"type":"line","filled":true},
"encoding":{"x":{"field":"x","type":"quantitative"},"y":{"field":"y","type":"quantitative"},"fill":{"field":"p","type":"nominal","legend":null},"order":{"value":null}}},
{"data":{"name":"st"},"transform":[{"filter":{"field":"p","oneOf":["tealF"]}}],"mark":{"type":"line","filled":true},
"encoding":{"x":{"field":"x","type":"quantitative"},"y":{"field":"y","type":"quantitative"},"fill":{"field":"p","type":"nominal","legend":null},"order":{"value":null}}},
{"data":{"name":"st"},"transform":[{"filter":{"field":"p","oneOf":["brownF","lbF"]}}],"mark":{"type":"line","filled":true},
"encoding":{"x":{"field":"x","type":"quantitative"},"y":{"field":"y","type":"quantitative"},"fill":{"field":"p","type":"nominal","legend":null},"order":{"value":null}}},
{"data":{"name":"st"},"transform":[{"filter":{"field":"p","oneOf":["orangeF","orangeF2"]}}],"mark":{"type":"line","filled":true},
"encoding":{"x":{"field":"x","type":"quantitative"},"y":{"field":"y","type":"quantitative"},"fill":{"field":"p","type":"nominal","legend":null},"order":{"value":null}}},
{"data":{"name":"sl"},"transform":[{"filter":{"field":"p","oneOf":["lgL","dgL","grnL"]}}],"mark":{"type":"line","strokeWidth":1},
"encoding":{"x":{"field":"x","type":"quantitative"},"y":{"field":"y","type":"quantitative"},
"stroke":{"field":"p","type":"nominal","scale":{"domain":["lgL","dgL","grnL","zeroL","zeroLF","zeroLlb","oneL","oneLdesc","oF1","oF2","twoL","twoLF","twoLF2","zeroLd","oneLd","oneLd2","oneLd3","twoLd","monod","mono"],"range":["#8c8c8c","#6e6e6e","#22bb22","#1e90ff","#1e90ff","#1e90ff","#ff6600","#a0a0a0","#ff6600","#ff6600","#990099","#990099","#990099","#1e90ff","#ff6600","#ff6600","#ff6600","#990099","#0000cc","#0000cc"]},"legend":null},"order":{"value":null}}},
{"data":{"name":"sl"},"transform":[{"filter":{"field":"p","oneOf":["zeroL","zeroLF","zeroLlb","oneL","oneLdesc","oF1","oF2","twoL","twoLF","twoLF2"]}}],"mark":{"type":"line","strokeWidth":1.6},
"encoding":{"x":{"field":"x","type":"quantitative"},"y":{"field":"y","type":"quantitative"},"stroke":{"field":"p","type":"nominal","legend":null},"order":{"value":null}}},
{"data":{"name":"sl"},"transform":[{"filter":{"field":"p","oneOf":["zeroLd","oneLd","oneLd2","oneLd3","twoLd","monod"]}}],"mark":{"type":"line","strokeWidth":1.8,"strokeDash":[6,4]},
"encoding":{"x":{"field":"x","type":"quantitative"},"y":{"field":"y","type":"quantitative"},"stroke":{"field":"p","type":"nominal","legend":null},"order":{"value":null}}},
{"data":{"name":"sl"},"transform":[{"filter":{"field":"p","oneOf":["mono"]}}],"mark":{"type":"line","strokeWidth":2.5},
"encoding":{"x":{"field":"x","type":"quantitative"},"y":{"field":"y","type":"quantitative"},"stroke":{"field":"p","type":"nominal","legend":null},"order":{"value":null}}},
{"data":{"values":[{"x":137,"y":924,"t":"√s = 8,13 TeV, 20.3-139 fb ⁻¹"},{"x":913,"y":924,"t":"March 2021"}]},"mark":{"type":"text","align":"left","baseline":"middle","fontSize":15,"color":"#000"},
"encoding":{"x":{"field":"x","type":"quantitative"},"y":{"field":"y","type":"quantitative"},"text":{"field":"t"}}},
{"data":{"values":[{"x":178,"y":835,"t":"ATLAS"}]},"mark":{"type":"text","align":"left","baseline":"middle","fontSize":17,"fontWeight":"bold","fontStyle":"italic","color":"#000"},
"encoding":{"x":{"field":"x","type":"quantitative"},"y":{"field":"y","type":"quantitative"},"text":{"field":"t"}}},
{"data":{"values":[{"x":379,"y":835,"t":"Preliminary"}]},"mark":{"type":"text","align":"left","baseline":"middle","fontSize":17,"color":"#000"},
"encoding":{"x":{"field":"x","type":"quantitative"},"y":{"field":"y","type":"quantitative"},"text":{"field":"t"}}},
{"data":{"values":[{"x":178,"y":776,"t":"t̃₁t̃₁ production"},{"x":178,"y":719,"t":"Limits at 95% CL"}]},"mark":{"type":"text","align":"left","baseline":"middle","fontSize":14,"color":"#000"},
"encoding":{"x":{"field":"x","type":"quantitative"},"y":{"field":"y","type":"quantitative"},"text":{"field":"t"}}},
{"data":{"values":[{"x":645,"y":690,"t":"Δ m(t̃₁,χ̃₁⁰) = 0"},{"x":752,"y":615,"t":"Δ m(t̃₁,χ̃₁⁰) = mb + mW"},{"x":742,"y":540,"t":"Δ m(t̃₁,χ̃₁⁰) = mt"}]},"mark":{"type":"text","align":"center","baseline":"middle","fontSize":8.5,"angle":310,"color":"#b5b5b5"},
"encoding":{"x":{"field":"x","type":"quantitative"},"y":{"field":"y","type":"quantitative"},"text":{"field":"t"}}},
{"data":{"values":[{}]},"mark":{"type":"rect","fill":null,"stroke":"#000","strokeWidth":2},
"encoding":{"x":{"datum":115,"type":"quantitative"},"x2":{"datum":1282},"y":{"datum":5,"type":"quantitative"},"y2":{"datum":900}}}
]},
{"data":{"values":[]},"mark":"point","encoding":{
"x":{"field":"x","type":"quantitative","axis":{"orient":"bottom","values":[150,200,250,300,350,400,450,500,550,600,650,700,750,800,850,900,950,1000,1050,1100,1150,1200,1250],"labels":false,"tickSize":-5,"title":null}},
"y":{"field":"y","type":"quantitative","axis":{"orient":"left","values":[20,40,60,80,100,120,140,160,180,200,220,240,260,280,300,320,340,360,380,400,420,440,460,480,500,520,540,560,580,600,620,640,660,680,700,720,740,760,780,800,820,840,860,880,900],"labels":false,"tickSize":-5,"title":null}}}},
{"data":{"values":[]},"mark":"point","encoding":{
"x":{"field":"x","type":"quantitative","axis":{"orient":"top","offset":-11.6,"values":[200,400,600,800,1000,1200],"labels":false,"tickSize":-10,"title":null}},
"y":{"field":"y","type":"quantitative","axis":{"orient":"right","values":[100,200,300,400,500,600,700,800,900],"labels":false,"tickSize":-10,"title":null}}}},
{"data":{"values":[]},"mark":"point","encoding":{
"x":{"field":"x","type":"quantitative","axis":{"orient":"top","offset":-11.6,"values":[150,200,250,300,350,400,450,500,550,600,650,700,750,800,850,900,950,1000,1050,1100,1150,1200,1250],"labels":false,"tickSize":-5,"title":null}},
"y":{"field":"y","type":"quantitative","axis":{"orient":"right","values":[20,40,60,80,100,120,140,160,180,200,220,240,260,280,300,320,340,360,380,400,420,440,460,480,500,520,540,560,580,600,620,640,660,680,700,720,740,760,780,800,820,840,860,880,900],"labels":false,"tickSize":-5,"title":null}}}}
],
"resolve":{"axis":{"x":"independent","y":"independent"}}
},
{"layer":[
{"data":{"name":"ip"},"transform":[{"filter":{"field":"p","oneOf":["bgO"]}}],"mark":{"type":"line","filled":true},
"encoding":{
"x":{"field":"x","type":"quantitative","scale":{"domain":[172,230],"range":[258,361],"nice":false,"zero":false},"axis":{"orient":"bottom","offset":-239,"values":[180,200,220],"labelFontSize":10,"tickSize":-4,"tickWidth":1,"labelPadding":6,"title":null}},
"y":{"field":"y","type":"quantitative","scale":{"domain":[-0.8,75.8],"range":[119.7,23],"nice":false,"zero":false},"axis":{"orient":"left","offset":-258,"values":[0,10,20,30,40,50,60,70],"labelFontSize":10,"tickSize":-4,"tickWidth":1,"labelPadding":6,"title":null}},
"fill":{"field":"p","type":"nominal","scale":{"domain":["bgO","tan","dgI","gr","grd","grL"],"range":["#f6c87c","#d8b57e","#9a9a9a","#a5cf58","#5aa55a","#a8e6a0"]},"legend":null},
"order":{"value":null}}},
{"data":{"name":"ip"},"transform":[{"filter":{"field":"p","oneOf":["tan"]}}],"mark":{"type":"line","filled":true},
"encoding":{"x":{"field":"x","type":"quantitative"},"y":{"field":"y","type":"quantitative"},"fill":{"field":"p","type":"nominal","legend":null},"order":{"value":null}}},
{"data":{"name":"ip"},"transform":[{"filter":{"field":"p","oneOf":["dgI"]}}],"mark":{"type":"line","filled":true},
"encoding":{"x":{"field":"x","type":"quantitative"},"y":{"field":"y","type":"quantitative"},"fill":{"field":"p","type":"nominal","legend":null},"order":{"value":null}}},
{"data":{"name":"ip"},"transform":[{"filter":{"field":"p","oneOf":["gr"]}}],"mark":{"type":"line","filled":true},
"encoding":{"x":{"field":"x","type":"quantitative"},"y":{"field":"y","type":"quantitative"},"fill":{"field":"p","type":"nominal","legend":null},"order":{"value":null}}},
{"data":{"name":"ip"},"transform":[{"filter":{"field":"p","oneOf":["grd"]}}],"mark":{"type":"line","filled":true},
"encoding":{"x":{"field":"x","type":"quantitative"},"y":{"field":"y","type":"quantitative"},"fill":{"field":"p","type":"nominal","legend":null},"order":{"value":null}}},
{"data":{"name":"ip"},"transform":[{"filter":{"field":"p","oneOf":["grL"]}}],"mark":{"type":"line","filled":true},
"encoding":{"x":{"field":"x","type":"quantitative"},"y":{"field":"y","type":"quantitative"},"fill":{"field":"p","type":"nominal","legend":null},"order":{"value":null}}},
{"data":{"name":"il"},"transform":[{"filter":{"field":"p","oneOf":["oS","gS","dgS"]}}],"mark":{"type":"line","strokeWidth":1.5},
"encoding":{"x":{"field":"x","type":"quantitative"},"y":{"field":"y","type":"quantitative"},
"stroke":{"field":"p","type":"nominal","scale":{"domain":["oS","gS","dgS","oD","gD"],"range":["#ff7a00","#22dd22","#1a4d1a","#ff6600","#006400"]},"legend":null},"order":{"value":null}}},
{"data":{"name":"il"},"transform":[{"filter":{"field":"p","oneOf":["oD","gD"]}}],"mark":{"type":"line","strokeWidth":1.8,"strokeDash":[5,4]},
"encoding":{"x":{"field":"x","type":"quantitative"},"y":{"field":"y","type":"quantitative"},"stroke":{"field":"p","type":"nominal","legend":null},"order":{"value":null}}},
{"data":{"values":[{}]},"mark":{"type":"rect","fill":null,"stroke":"#000","strokeWidth":1.5},
"encoding":{"x":{"datum":172,"type":"quantitative"},"x2":{"datum":230},"y":{"datum":-0.8,"type":"quantitative"},"y2":{"datum":75.8}}}
]}
],
"resolve":{"scale":{"x":"independent","y":"independent","fill":"independent","stroke":"independent"},"axis":{"x":"independent","y":"independent"}}
},
{
"width":165,"height":359,
"layer":[
{"data":{"name":"leg"},"mark":{"type":"text","align":"left","baseline":"middle","fontSize":8,"color":"#333"},
"encoding":{"x":{"datum":27,"type":"quantitative","scale":{"domain":[0,165],"nice":false,"zero":false},"axis":null},
"y":{"field":"s","type":"quantitative","scale":{"domain":[0,23.24],"reverse":true,"nice":false,"zero":false},"axis":null},"text":{"field":"t"}}},
{"data":{"name":"legsw"},"mark":{"type":"rect","width":15,"height":10},
"encoding":{"x":{"datum":15.5,"type":"quantitative"},"y":{"field":"s","type":"quantitative"},
"fill":{"field":"k","type":"nominal","scale":{"domain":["mono","zeroL","oneL","twoL","lg","tt","dg"],"range":["#9999ff","#80d4ff","#ffc966","#e3b3e3","#cccccc","#a3eea3","#999999"]},"legend":null}}},
{"data":{"name":"legsw"},"mark":{"type":"rule","strokeWidth":1.5},
"encoding":{"x":{"datum":8,"type":"quantitative"},"x2":{"datum":23},"y":{"field":"s","type":"quantitative"},
"stroke":{"field":"k","type":"nominal","scale":{"domain":["mono","zeroL","oneL","twoL","lg","tt","dg"],"range":["#0000cc","#1e90ff","#ff6600","#990099","#777777","#00bb00","#666666"]},"legend":null}}},
{"data":{"name":"legoe"},"mark":{"type":"rule","strokeWidth":2,"color":"#000"},
"encoding":{"x":{"datum":8,"type":"quantitative"},"x2":{"datum":23},"y":{"field":"s","type":"quantitative"},
"strokeDash":{"field":"k","type":"nominal","scale":{"domain":["obs","exp"],"range":[[1,0],[3,4]]},"legend":null}}}
],
"resolve":{"scale":{"fill":"independent","stroke":"independent"}}
}
],
"spacing":16,"bounds":"flush"
}
],
"spacing":111,"bounds":"flush"
}
